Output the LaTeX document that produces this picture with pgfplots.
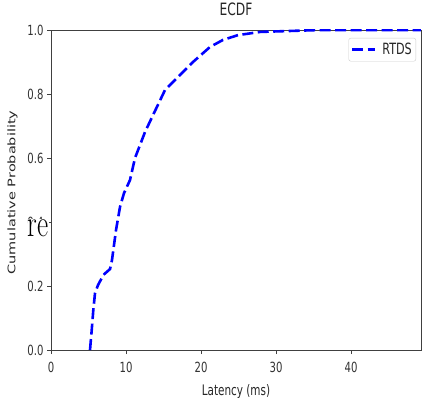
\documentclass[border=0pt]{standalone}
\usepackage{fontspec}
\usepackage{graphicx}
\usepackage{pgfplots}
\pgfplotsset{compat=1.18}
\newfontfamily\dv{DejaVu Sans}
\newfontfamily\dvc[FakeStretch=0.72]{DejaVu Sans}
\begin{document}
\begin{tikzpicture}
\begin{axis}[
  scale only axis, width=370pt, height=320pt,
  xmin=0, xmax=49.33, ymin=0, ymax=1,
  xtick={0,10,20,30,40}, ytick={0,0.2,0.4,0.6,0.8,1.0},
  xtick pos=lower, ytick pos=left, tick align=outside,
  major tick length=4pt,
  tick style={black!75, line width=0.8pt},
  axis line style={black!75, line width=0.8pt},
  /pgf/number format/assume math mode=true,
  tick label style={font=\dvc\fontsize{14}{14}\selectfont, text=black!80},
  yticklabel style={/pgf/number format/.cd, fixed, fixed zerofill, precision=1},
  xticklabel style={yshift=-5pt},
  title={ECDF},
  title style={at={(rel axis cs:0.5,1)}, anchor=base, yshift=8pt, font=\dvc\fontsize{17}{17}\selectfont, text=black!85},
  xlabel={Latency (ms)},
  xlabel style={at={(rel axis cs:0.5,0)}, anchor=base, yshift=-45pt, font=\dvc\fontsize{14.5}{14.5}\selectfont, text=black!85},
  legend style={at={(rel axis cs:1,1)}, anchor=north east, xshift=-5pt, yshift=-8pt, draw=black!20, rounded corners=2pt, font=\dvc\fontsize{15.5}{15.5}\selectfont, text=black!85, inner xsep=2pt, inner ysep=3pt, fill=white},
  legend image code/.code={\draw[#1] (0pt,0pt) -- (23pt,0pt);},
]
\addplot[blue, line width=2.6pt, dash pattern=on 11pt off 4.5pt] coordinates {
(5.2,0) (5.43,0.0625) (5.64,0.125) (5.87,0.178) (6.27,0.203) (7.0,0.235) (7.87,0.253)
(8.13,0.281) (8.67,0.375) (9.2,0.447) (9.73,0.49) (10.53,0.531) (11.2,0.6)
(12.53,0.681) (13.6,0.734) (15.2,0.8125) (16.8,0.85) (18.93,0.9) (21.2,0.947)
(22.93,0.969) (24.93,0.984) (27.9,0.994) (31.9,0.997) (35.9,1.0) (49.3,1.0)
};
\addlegendentry{\hspace{4pt}RTDS}
\coordinate (O) at (rel axis cs:0,0);
\end{axis}
\node[rotate=90, anchor=center, inner sep=0pt, font=\dv\fontsize{14.5}{14.5}\selectfont, text=black!85] at ([shift={(-38.5pt,157.5pt)}]O) {\scalebox{1}[0.72]{Cumulative Probability}};
\node[anchor=base west, inner sep=0pt, fill=white, font=\fontsize{38}{40}\selectfont] at ([shift={(-23.3pt,114pt)}]O) {\scalebox{0.72}[1]{re}};
\pgfresetboundingbox
\path[use as bounding box] ([shift={(-51pt,-47pt)}]O) rectangle ([shift={(377pt,350pt)}]O);
\end{tikzpicture}
\end{document}
